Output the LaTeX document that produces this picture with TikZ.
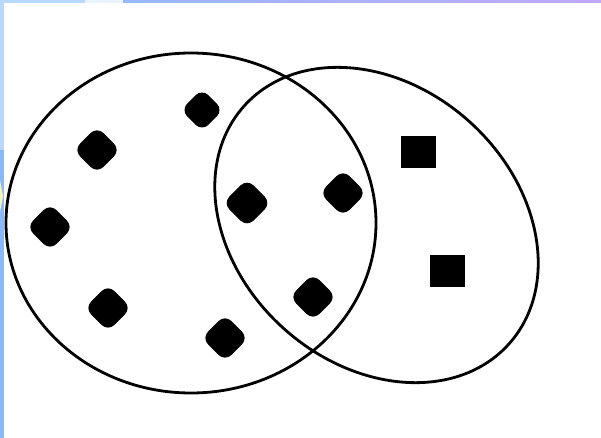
\documentclass[tikz,border=0pt]{standalone}
\usetikzlibrary{shapes.geometric}
\definecolor{stripA}{HTML}{B8D8FF}
\definecolor{stripB}{HTML}{E8F4FF}
\definecolor{gradL}{HTML}{98B8FF}
\definecolor{gradR}{HTML}{C0A8FF}
\definecolor{sideB}{HTML}{88B8FF}
\definecolor{paleY}{HTML}{FFF4B0}
\tikzset{
  dot/.style={rectangle, fill=black, inner sep=0pt, minimum size=33pt, rotate=45, rounded corners=9pt},
  smalldot/.style={dot, minimum size=30pt},
  sqr/.style={rectangle, fill=black, inner sep=0pt, minimum width=35pt, minimum height=32pt},
  ring/.style={draw=black, line width=2.8pt}
}
\begin{document}
\begin{tikzpicture}[x=1pt, y=-1pt]
  \useasboundingbox (0,0) rectangle (601,438);
  \fill[white] (0,0) rectangle (601,438);
  % frame strips
  \fill[stripA] (0,0) rectangle (85,3);
  \fill[stripB] (85,0) rectangle (123,3);
  \shade[left color=gradL, right color=gradR] (123,0) rectangle (601,3);
  \fill[stripA] (0,0) rectangle (3.5,150);
  \fill[sideB] (0,150) rectangle (3.5,438);
  \fill[paleY] (0,180) -- (3,196) -- (0,212) -- cycle;
  % sets
  \draw[ring] (191,223) ellipse [x radius=185, y radius=170];
  \draw[ring, rotate around={-42:(376.5,225)}] (376.5,225) ellipse [x radius=178, y radius=139];
  % elements
  \node[smalldot] (d1) at (202,110) {};
  \node[dot] (d2) at (97,150) {};
  \node[dot] (d3) at (50,227) {};
  \node[dot, minimum size=34pt] (d4) at (247,203) {};
  \node[dot] (d5) at (343,193) {};
  \node[dot] (d6) at (108,308) {};
  \node[dot] (d7) at (225,338) {};
  \node[dot] (d8) at (313,297) {};
  \node[sqr] (s1) at (418.5,152.5) {};
  \node[sqr] (s2) at (447.5,271) {};
\end{tikzpicture}
\end{document}
